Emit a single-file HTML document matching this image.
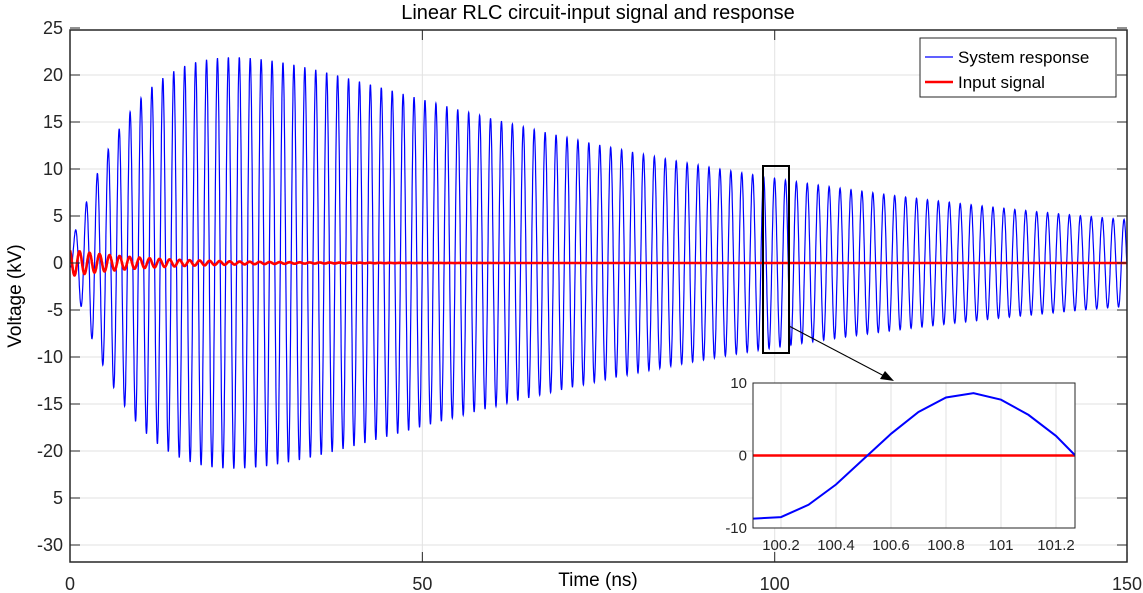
<!DOCTYPE html>
<html><head><meta charset="utf-8"><style>
body{margin:0;background:#fff;}
svg{display:block;font-family:"Liberation Sans",sans-serif;}
</style></head><body>
<svg id="s" width="1143" height="593" viewBox="0 0 1143 593">
<rect width="1143" height="593" fill="#fff"/>
<g id="grid" stroke="#e2e2e2" stroke-width="1"></g>
<defs><clipPath id="cp"><rect x="70" y="30" width="1057" height="532"/></clipPath>
<clipPath id="cp2"><rect x="753" y="383" width="322" height="145"/></clipPath></defs>
<path id="blue" fill="none" stroke="#0000ff" stroke-width="1.2" clip-path="url(#cp)"/>
<path id="red" fill="none" stroke="#ff0000" stroke-width="2.6" clip-path="url(#cp)"/>
<rect x="70" y="30" width="1057" height="532" fill="none" stroke="#262626" stroke-width="1.5"/>
<g id="ticks" stroke="#262626" stroke-width="1"></g>
<g id="labels" font-size="18" fill="#262626"></g>
<text x="598" y="19" font-size="20" text-anchor="middle" fill="#000">Linear RLC circuit-input signal and response</text>
<text x="598" y="586" font-size="19" text-anchor="middle" fill="#000">Time (ns)</text>
<text transform="translate(21,296) rotate(-90)" font-size="19" text-anchor="middle" fill="#000">Voltage (kV)</text>
<rect x="920" y="38" width="196" height="59" fill="#fff" stroke="#262626" stroke-width="1"/>
<line x1="925" y1="57" x2="953" y2="57" stroke="#0000ff" stroke-width="1.2"/>
<text x="958" y="63" font-size="17">System response</text>
<line x1="925" y1="82" x2="953" y2="82" stroke="#ff0000" stroke-width="2.6"/>
<text x="958" y="88" font-size="17">Input signal</text>
<rect x="763" y="166" width="26" height="187" fill="none" stroke="#000" stroke-width="2"/>
<line x1="789" y1="326" x2="888" y2="378" stroke="#000" stroke-width="1"/>
<polygon points="894,381 880,379 885,371" fill="#000"/>
<rect x="753" y="383" width="322" height="145" fill="#fff"/>
<g id="igrid" stroke="#e2e2e2" stroke-width="1"></g>
<line x1="753" y1="455.5" x2="1075" y2="455.5" stroke="#ff0000" stroke-width="2.4"/>
<polyline clip-path="url(#cp2)" fill="none" stroke="#0000ff" stroke-width="2" points=""/>
<rect x="753" y="383" width="322" height="145" fill="none" stroke="#262626" stroke-width="1"/>
<g id="ilab" font-size="15" fill="#262626"></g>
</svg>
<script>
var ns="http://www.w3.org/2000/svg";
function el(p,t,a,txt){var e=document.createElementNS(ns,t);for(var k in a)e.setAttribute(k,a[k]);if(txt!==undefined)e.textContent=txt;document.getElementById(p).appendChild(e);}
function X(t){return 70+t*7.047;} function Y(v){return 263-v*9.4;}
var yt=[25,20,15,10,5,0,-5,-10,-15,-20,-25,-30],yl=["25","20","15","10","5","0","-5","-10","-15","-20","5","-30"];
yt.forEach(function(v,i){var y=Y(v);if(v!=25)el("grid","line",{x1:70,x2:1127,y1:y,y2:y});
el("ticks","line",{x1:70,x2:80,y1:y,y2:y});el("ticks","line",{x1:1117,x2:1127,y1:y,y2:y});
el("labels","text",{x:63,y:y+6,"text-anchor":"end"},yl[i]);});
[0,50,100,150].forEach(function(t){var x=X(t);if(t>0&&t<150)el("grid","line",{x1:x,x2:x,y1:30,y2:562});
el("ticks","line",{x1:x,x2:x,y1:552,y2:562});el("ticks","line",{x1:x,x2:x,y1:30,y2:40});
el("labels","text",{x:x,y:590,"text-anchor":"middle"},""+t);});
var P=1.55,w=2*Math.PI/P,d="",r="";
for(var i=0;i<=6000;i++){var t=i*150/6000;
var A=34.5*(Math.exp(-t/74.5)-Math.exp(-t/10))+1.2*Math.exp(-t/2);
var v=-A*Math.cos(w*t)+ (t<2?1.0*Math.exp(-t):0);
d+=(i?"L":"M")+X(t).toFixed(1)+" "+Y(v).toFixed(1);
if(t<60){var rv=1.4*Math.exp(-t/11)*Math.cos(2*Math.PI/1.42*t+0.3);r+=(i?"L":"M")+X(t).toFixed(1)+" "+Y(rv).toFixed(1);}}
r+="L"+X(150)+" "+Y(0);
document.getElementById("blue").setAttribute("d",d);document.getElementById("red").setAttribute("d",r);
var iv=[[100.1,-8.7],[100.2,-8.5],[100.3,-6.8],[100.4,-4.0],[100.5,-0.5],[100.6,3.0],[100.7,6.0],[100.8,8.0],[100.9,8.6],[101.0,7.7],[101.1,5.6],[101.2,2.7],[101.27,0]];
function IX(t){return 753.5+(t-100.1)*275;} function IY(v){return 455.5-v*7.25;}
document.querySelector("polyline").setAttribute("points",iv.map(function(p){return IX(p[0]).toFixed(1)+","+IY(p[1]).toFixed(1);}).join(" "));
["100.2","100.4","100.6","100.8","101","101.2"].forEach(function(s){var x=IX(parseFloat(s));el("igrid","line",{x1:x,x2:x,y1:383,y2:528});el("ilab","text",{x:x,y:550,"text-anchor":"middle"},s);});
[[10,"10"],[0,"0"],[-10,"-10"]].forEach(function(p){var y=IY(p[0]);if(p[0]==0)el("igrid","line",{x1:753,x2:1075,y1:y,y2:y});el("ilab","text",{x:747,y:y+5,"text-anchor":"end"},p[1]);});
</script>
</body></html>
